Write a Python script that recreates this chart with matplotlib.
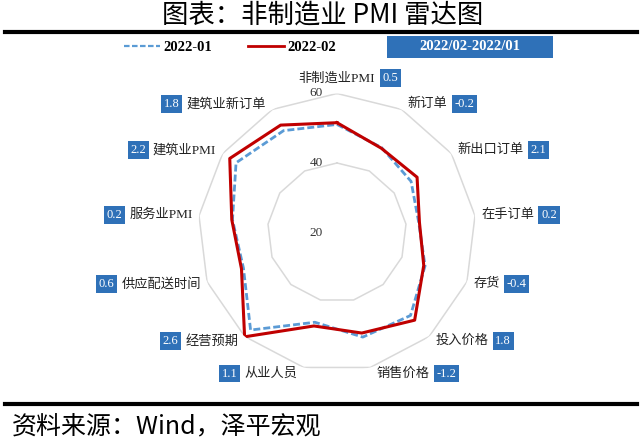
import numpy as np
import matplotlib
matplotlib.use('Agg')
import matplotlib.pyplot as plt
from matplotlib.lines import Line2D
from matplotlib.patches import Rectangle

plt.rcParams['font.family'] = ['Liberation Serif', 'Noto Sans CJK SC', 'DejaVu Sans']

# 数据
categories = ['非制造业PMI', '新订单', '新出口订单', '在手订单', '存货', '投入价格',
              '销售价格', '从业人员', '经营预期', '供应配送时间', '服务业PMI',
              '建筑业PMI', '建筑业新订单']
jan_2022 = [51.1, 47.6, 45.9, 43.7, 47.1, 51.9, 51.0, 46.6, 57.5, 48.8, 50.3, 55.3, 53.1]
feb_2022 = [51.6, 47.4, 48.0, 43.9, 46.7, 53.7, 49.8, 47.7, 60.1, 49.4, 50.5, 57.5, 54.9]
diff_labels = ['0.5', '-0.2', '2.1', '0.2', '-0.4', '1.8', '-1.2',
               '1.1', '2.6', '0.6', '0.2', '2.2', '1.8']
series_names = ['2022-01', '2022-02']
radial_ticks = [20, 40, 60]

BOX_BLUE = '#2F71B8'
C_JAN = '#5B9BD5'
C_FEB = '#C00000'
GRID = '#D9D9D9'

W, H = 640, 443
fig = plt.figure(figsize=(W / 100, H / 100), dpi=100)


def fx(px):
    return px / W


def fy(py):
    return 1 - py / H


# 雷达图坐标轴
cx, cy, rad = 337, 232.5, 139
ax = fig.add_axes([fx(cx - rad), fy(cy + rad), 2 * rad / W, 2 * rad / H], projection='polar')
ax.set_theta_zero_location('N')
ax.set_theta_direction(-1)
ax.set_ylim(radial_ticks[0], radial_ticks[-1])
ax.grid(False)
ax.spines['polar'].set_visible(False)
ax.set_xticks([])
ax.set_yticks([])
ax.patch.set_alpha(0)

n = len(categories)
theta = np.linspace(0, 2 * np.pi, n, endpoint=False)
closed = np.append(theta, theta[0])

# 多边形网格线
for t in radial_ticks[1:]:
    ax.plot(closed, [t] * (n + 1), color=GRID, lw=1.1, zorder=1)
for t in radial_ticks:
    ax.annotate(str(t), xy=(0, t), xytext=(-15, 0), textcoords='offset points',
                ha='center', va='center', fontsize=9.5, color='#333333')

ax.plot(closed, jan_2022 + jan_2022[:1], color=C_JAN, lw=2, dashes=(2.5, 1.1), zorder=3)
ax.plot(closed, feb_2022 + feb_2022[:1], color=C_FEB, lw=2.2, zorder=4)

# 类别标签 + 差值框
for k, (cat, d) in enumerate(zip(categories, diff_labels)):
    s, c = np.sin(theta[k]), np.cos(theta[k])
    if k == 0:
        off, ha = (0, 11), 'center'
    elif s > 0:
        off, ha = (4.5, c * 4.5), 'left'
    else:
        off, ha = (-4.5, c * 4.5), 'right'
    lab = ax.annotate(cat, xy=(theta[k], radial_ticks[-1]), xytext=off,
                      textcoords='offset points', ha=ha, va='center', fontsize=9.5,
                      color='#222222')
    right_side = k <= 6
    ax.annotate(d, xy=(1, 0.5) if right_side else (0, 0.5), xycoords=lab,
                xytext=(5 if right_side else -5, 0), textcoords='offset points',
                ha='left' if right_side else 'right', va='center', fontsize=9,
                color='white',
                bbox=dict(boxstyle='square,pad=0.22', fc=BOX_BLUE, ec='none'))

# 标题与分隔线
fig.text(fx(323), fy(15), '图表：非制造业 PMI 雷达图', ha='center', va='center',
         fontsize=19, family=['Noto Sans CJK SC'], weight='light')
fig.add_artist(Line2D([fx(5), fx(637)], [fy(32), fy(32)], lw=3, color='black'))
fig.add_artist(Line2D([fx(5), fx(637)], [fy(404), fy(404)], lw=3, color='black'))
fig.text(fx(12), fy(427), '资料来源：Wind，泽平宏观', ha='left', va='center',
         fontsize=18, style='italic', family=['Noto Sans CJK SC'], weight='light')

# 图例
handles = [Line2D([], [], color=C_JAN, lw=1.6, dashes=(2.5, 1.1)),
           Line2D([], [], color=C_FEB, lw=2)]
fig.legend(handles, series_names, loc='center', bbox_to_anchor=(fx(230), fy(47)), ncol=2,
           frameon=False, handlelength=2.5, handletextpad=0.25, columnspacing=2.4,
           prop=dict(family='Liberation Serif', weight='bold', size=10.5))

fig.add_artist(Rectangle((fx(387), fy(58)), (553 - 387) / W, 22 / H,
                         transform=fig.transFigure, fc=BOX_BLUE, ec='none'))
fig.text(fx(470), fy(47), '2022/02-2022/01', ha='center', va='center', color='white',
         fontsize=10.5, weight='bold', family='Liberation Serif')

fig.savefig('out.png', dpi=100)
